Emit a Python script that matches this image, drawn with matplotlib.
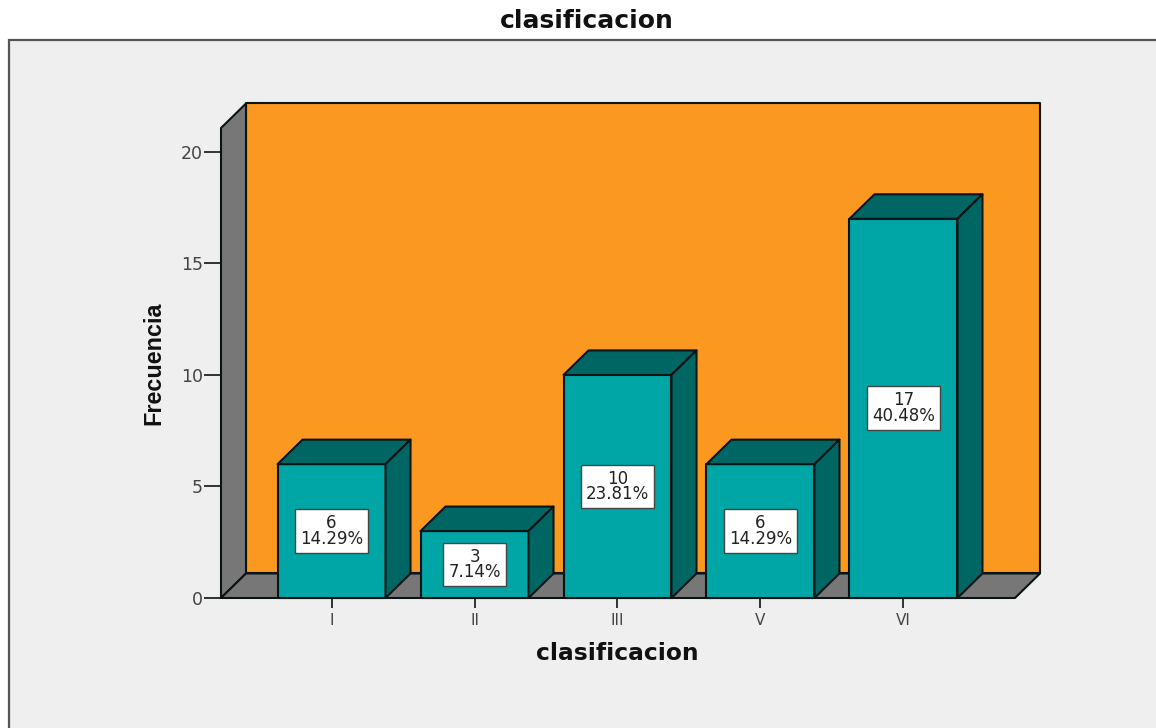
import matplotlib
matplotlib.use("Agg")
import matplotlib.pyplot as plt
from matplotlib.patches import Polygon, Rectangle

categories = ["I", "II", "III", "V", "VI"]
counts = [6, 3, 10, 6, 17]
percents = ["14.29%", "7.14%", "23.81%", "14.29%", "40.48%"]
y_ticks = [0, 5, 10, 15, 20]

W, H = 1156, 728
PANEL = "#EFEFEF"
ORANGE = "#FB981F"
WALL = "#777777"
TEAL = "#00A6A6"
TEAL_DARK = "#006664"
EDGE = "#0A1414"
TEXT = "#222222"

plt.rcParams["font.family"] = ["DejaVu Sans"]

fig = plt.figure(figsize=(W / 100, H / 100), dpi=100, facecolor="white")

# grey panel behind the chart, runs off the right and bottom edges
fig.add_artist(Rectangle((9 / W, -0.01), 1.1, (728 - 40) / H + 0.01, transform=fig.transFigure,
                         facecolor=PANEL, edgecolor="#555555", linewidth=1.6, zorder=-1))

# axes box is the front face of the 3d plot frame
ax = fig.add_axes([221 / W, (H - 598) / H, (1015 - 221) / W, (598 - 128) / H])
ax.set_xlim(-0.773, 4.78)
ax.set_ylim(0, 21.07)
ax.patch.set_visible(False)
for s in ax.spines.values():
    s.set_visible(False)

# depth of the 3d effect in data units
dx = 25 / 143
dy = 24.5 / 22.3
x0, x1 = ax.get_xlim()
y0, y1 = ax.get_ylim()


def poly(pts, color, z=1):
    ax.add_patch(Polygon(pts, closed=True, facecolor=color, edgecolor=EDGE, linewidth=1.5,
                         joinstyle="round", clip_on=False, zorder=z))


# back wall, side wall, floor
poly([(x0 + dx, y0 + dy), (x1 + dx, y0 + dy), (x1 + dx, y1 + dy), (x0 + dx, y1 + dy)], ORANGE)
poly([(x0, y0), (x0 + dx, y0 + dy), (x0 + dx, y1 + dy), (x0, y1)], WALL)
poly([(x0, y0), (x1, y0), (x1 + dx, y0 + dy), (x0 + dx, y0 + dy)], WALL)

half = 0.3776
for i, (c, p) in enumerate(zip(counts, percents)):
    l, r = i - half, i + half
    poly([(l, 0), (r, 0), (r, c), (l, c)], TEAL, 3)
    poly([(l, c), (r, c), (r + dx, c + dy), (l + dx, c + dy)], TEAL_DARK, 3)
    poly([(r, 0), (r + dx, dy), (r + dx, c + dy), (r, c)], TEAL_DARK, 3)
    ax.text(i, c / 2, f"{c}\n{p}", ha="center", va="center", fontsize=12, color=TEXT,
            linespacing=0.85, zorder=5,
            bbox=dict(boxstyle="square,pad=0.3", facecolor="white", edgecolor="#444444", linewidth=1))

ax.set_xticks(range(len(categories)))
ax.set_xticklabels(categories, fontsize=11, color="#444444")
ax.set_yticks(y_ticks)
ax.set_yticklabels([str(t) for t in y_ticks], fontsize=12.5, color="#444444")
ax.tick_params(axis="x", length=7, width=1.2, color=EDGE, pad=4)
ax.tick_params(axis="y", length=12, width=1.2, color=EDGE, pad=1)

fig.text(587 / W, 1 - 21 / H, "clasificacion", ha="center", va="center", fontsize=18,
         fontweight="bold", color="#111111")
fig.text(617 / W, 1 - 654 / H, "clasificacion", ha="center", va="center", fontsize=16.8,
         fontweight="bold", color="#111111")
fig.text(154 / W, 1 - 363 / H, "Frecuencia", ha="center", va="center", rotation=90, fontsize=16.8,
         fontweight="bold", color="#111111", family=["Liberation Sans"])

fig.savefig("out.png", dpi=100)
